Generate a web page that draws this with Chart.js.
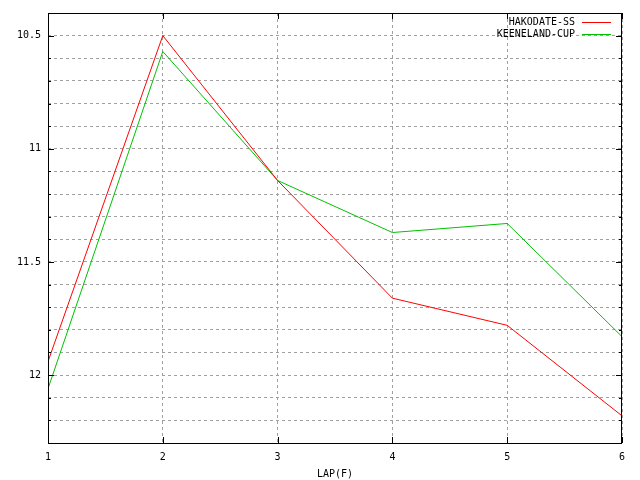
<!DOCTYPE html>
<html>
<head>
<meta charset="utf-8">
<script src="https://cdn.jsdelivr.net/npm/chart.js@4/dist/chart.umd.min.js"></script>
<style>
  html, body { margin: 0; padding: 0; background: #fff; }
  #wrap { width: 640px; height: 480px; }
</style>
</head>
<body>
<div id="wrap"><canvas id="lapChart" width="640" height="480"></canvas></div>
<script>
// lap times per furlong
const laps = [1, 2, 3, 4, 5, 6];
const hakodate = [11.94, 10.5, 11.14, 11.66, 11.78, 12.18];
const keeneland = [12.06, 10.57, 11.14, 11.37, 11.33, 11.83];
const seriesNames = ["HAKODATE-SS", "KEENELAND-CUP"];
const seriesColors = ["#ff0000", "#00c000"];

const FONT = { family: "'DejaVu Sans Mono', monospace", size: 10 };

function toPoints(values) {
  return laps.map((lap, i) => ({ x: lap, y: values[i] }));
}

// frame, inward ticks and a gnuplot-like key inside the plot
const framePlugin = {
  id: "frame",
  afterDatasetsDraw(chart) {
    const { ctx, chartArea: a, scales } = chart;
    ctx.save();
    ctx.strokeStyle = "#000";
    ctx.lineWidth = 1;
    ctx.setLineDash([]);
    ctx.strokeRect(a.left + 0.5, a.top + 0.5, a.right - a.left - 1, a.bottom - a.top);

    ctx.beginPath();
    scales.x.ticks.forEach((t) => {
      const px = Math.round(scales.x.getPixelForValue(t.value)) + 0.5;
      ctx.moveTo(px, a.bottom);
      ctx.lineTo(px, a.bottom - 6);
      ctx.moveTo(px, a.top);
      ctx.lineTo(px, a.top + 6);
    });
    scales.y.ticks.forEach((t) => {
      const py = Math.round(scales.y.getPixelForValue(t.value)) + 0.5;
      const len = t.label ? 6 : 3;
      ctx.moveTo(a.left, py);
      ctx.lineTo(a.left + len, py);
      ctx.moveTo(a.right, py);
      ctx.lineTo(a.right - len, py);
    });
    ctx.stroke();

    ctx.font = FONT.size + "px " + FONT.family;
    ctx.textAlign = "right";
    ctx.textBaseline = "middle";
    ctx.fillStyle = "#000";
    chart.data.datasets.forEach((ds, i) => {
      const y = 22 + i * 12;
      ctx.fillText(ds.label, a.right - 47, y);
      ctx.strokeStyle = ds.borderColor;
      ctx.beginPath();
      ctx.moveTo(a.right - 40, y + 0.5);
      ctx.lineTo(a.right - 11, y + 0.5);
      ctx.stroke();
    });
    ctx.restore();
  },
};

const ctx = document.getElementById("lapChart").getContext("2d");

new Chart(ctx, {
  type: "line",
  data: {
    datasets: [
      {
        label: seriesNames[0],
        data: toPoints(hakodate),
        borderColor: seriesColors[0],
        borderWidth: 1,
        pointRadius: 0,
        tension: 0,
      },
      {
        label: seriesNames[1],
        data: toPoints(keeneland),
        borderColor: seriesColors[1],
        borderWidth: 1,
        pointRadius: 0,
        tension: 0,
      },
    ],
  },
  options: {
    responsive: false,
    animation: false,
    devicePixelRatio: 1,
    layout: { padding: { top: 12, right: 18, left: 0, bottom: 0 } },
    plugins: {
      legend: { display: false },
      tooltip: { enabled: false },
    },
    scales: {
      x: {
        type: "linear",
        min: 1,
        max: 6,
        ticks: { stepSize: 1, color: "#000", font: FONT, padding: 8, maxRotation: 0 },
        grid: { color: "#a0a0a0", drawTicks: false },
        border: { display: false, dash: [3, 3] },
        title: { display: true, text: "LAP(F)", color: "#000", font: FONT, padding: { top: 4, bottom: 0 } },
        afterFit(scale) { scale.height = 37; },
      },
      y: {
        type: "linear",
        reverse: true,
        min: 10.4,
        max: 12.3,
        ticks: {
          stepSize: 0.1,
          color: "#000",
          font: FONT,
          padding: 7,
          autoSkip: false,
          callback: (v) => {
            const twice = v * 2;
            return Math.abs(twice - Math.round(twice)) < 1e-6 ? String(Number(v.toFixed(1))) : "";
          },
        },
        grid: { color: "#a0a0a0", drawTicks: false },
        border: { display: false, dash: [3, 3] },
        afterFit(scale) { scale.width = 48; },
      },
    },
  },
  plugins: [framePlugin],
});
</script>
</body>
</html>
